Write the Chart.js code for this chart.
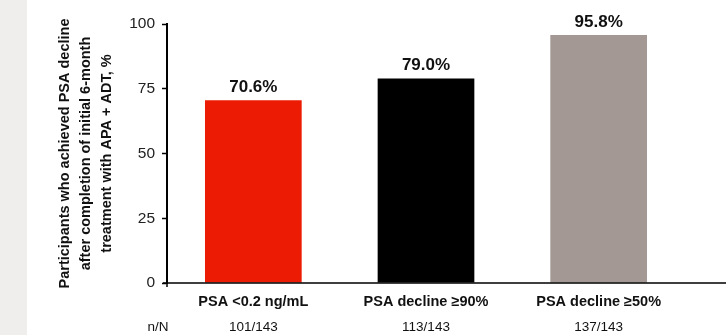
<!DOCTYPE html>
<html>
<head>
<meta charset="utf-8">
<script src="https://cdn.jsdelivr.net/npm/chart.js@4.4.1/dist/chart.umd.min.js"></script>
<style>
    html, body { margin: 0; padding: 0; background: #fff; }
    #wrap { position: relative; width: 726px; height: 335px; }
    #strip { position: absolute; left: 0; top: 0; width: 27px; height: 335px; background: #efeeec; }
    canvas { position: absolute; left: 0; top: 0; }
</style>
</head>
<body>
<div id="wrap">
    <div id="strip"></div>
    <canvas id="grafico" width="726" height="335"></canvas>
</div>
<script>
const categories = ["PSA <0.2 ng/mL", "PSA decline ≥90%", "PSA decline ≥50%"];
const percentages = [70.6, 79.0, 95.8];
const nOverN = ["101/143", "113/143", "137/143"];
const barColors = ["#ec1b04", "#000000", "#a39893"];
const yTicks = [0, 25, 50, 75, 100];
const yTitle = [
    "Participants who achieved PSA decline",
    "after completion of initial 6-month",
    "treatment with APA + ADT, %",
];

const FONT = "'Liberation Sans', Arial, Helvetica, sans-serif";

/**
 * Etiquetas de porcentaje encima de cada barra
 */
const valueLabels = {
    id: "valueLabels",
    afterDatasetsDraw(chart) {
        const { ctx } = chart;
        const meta = chart.getDatasetMeta(0);
        ctx.save();
        ctx.font = `bold 17px ${FONT}`;
        ctx.fillStyle = "#111";
        ctx.textAlign = "center";
        ctx.textBaseline = "middle";
        meta.data.forEach((bar, i) => {
            ctx.fillText(percentages[i].toFixed(1) + "%", bar.x, bar.y - 13);
        });
        ctx.restore();
    },
};

/**
 * Eje X extendido y fila n/N bajo las categorías
 */
const axisAndCounts = {
    id: "axisAndCounts",
    afterDraw(chart) {
        const { ctx, chartArea, scales } = chart;
        ctx.save();
        ctx.strokeStyle = "#000";
        ctx.lineWidth = 1.5;
        ctx.beginPath();
        ctx.moveTo(chartArea.left - 4, chartArea.bottom);
        ctx.lineTo(chart.width, chartArea.bottom);
        ctx.moveTo(chartArea.left, chartArea.bottom);
        ctx.lineTo(chartArea.left, chartArea.bottom + 4);
        ctx.stroke();

        ctx.font = `13.5px ${FONT}`;
        ctx.fillStyle = "#111";
        ctx.textAlign = "center";
        ctx.textBaseline = "middle";
        ctx.fillText("n/N", 158, 327);
        nOverN.forEach((txt, i) => {
            ctx.fillText(txt, scales.x.getPixelForValue(i), 327);
        });
        ctx.restore();
    },
};

new Chart(document.getElementById("grafico"), {
    type: "bar",
    data: {
        labels: categories,
        datasets: [
            {
                data: percentages,
                backgroundColor: barColors,
                borderWidth: 0,
                barPercentage: 0.56,
                categoryPercentage: 1,
            },
        ],
    },
    options: {
        responsive: false,
        animation: false,
        devicePixelRatio: 1,
        layout: { padding: { left: 0, right: 41, top: 24, bottom: 0 } },
        plugins: {
            legend: { display: false },
            tooltip: { enabled: false },
        },
        scales: {
            x: {
                grid: { display: false, drawTicks: false },
                border: { display: false },
                ticks: {
                    color: "#111",
                    padding: 10,
                    font: { family: FONT, size: 14.5, weight: "bold" },
                },
                afterFit(scale) {
                    scale.height = 52;
                },
            },
            y: {
                min: 0,
                max: 100,
                afterBuildTicks(scale) {
                    scale.ticks = yTicks.map((v) => ({ value: v }));
                },
                grid: {
                    drawOnChartArea: false,
                    drawTicks: true,
                    tickLength: 5,
                    tickWidth: 1.5,
                    tickColor: "#000",
                },
                border: { display: true, color: "#000", width: 2 },
                ticks: {
                    color: "#222",
                    padding: 7,
                    font: { family: FONT, size: 15.5 },
                },
                title: {
                    display: true,
                    text: yTitle,
                    color: "#111",
                    padding: { top: 54.5, bottom: 0 },
                    font: { family: FONT, size: 14.5, weight: "bold", lineHeight: 1.45 },
                },
                afterFit(scale) {
                    scale.width = 167;
                },
            },
        },
    },
    plugins: [valueLabels, axisAndCounts],
});
</script>
</body>
</html>
